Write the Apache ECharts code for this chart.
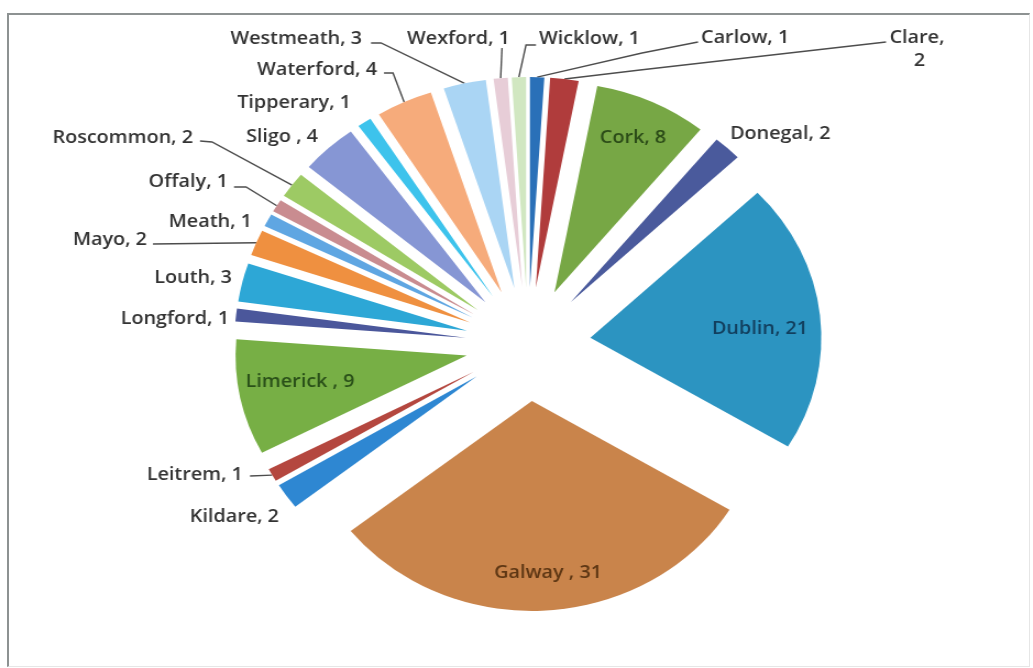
<!DOCTYPE html>
<html>
<head>
<meta charset="utf-8">
<script src="https://cdn.jsdelivr.net/npm/echarts@6/dist/echarts.min.js"></script>
<style>
  html, body { margin: 0; padding: 0; background: #fff; width: 1033px; height: 668px; overflow: hidden; }
  #frame {
    position: absolute; left: 7px; top: 13px; width: 1023px; height: 654px; box-sizing: border-box;
    border-left: 2px solid #8d9292; border-top: 2px solid #8d9292;
    border-right: 1px solid #e6e6e6; border-bottom: 1px solid #e6e6e6;
  }
  /* the pie is drawn slightly wider than tall */
  #chart { position: absolute; left: 0; top: 0; width: 940px; height: 668px; transform: scaleX(1.1); transform-origin: 0 0; }
</style>
</head>
<body>
<div id="frame"></div>
<div id="chart"></div>
<script>
// Respondents by county
const counties = ['Carlow', 'Clare', 'Cork', 'Donegal', 'Dublin', 'Galway ', 'Kildare', 'Leitrem',
  'Limerick ', 'Longford', 'Louth', 'Mayo', 'Meath', 'Offaly', 'Roscommon', 'Sligo ', 'Tipperary',
  'Waterford', 'Westmeath', 'Wexford', 'Wicklow'];
const counts = [1, 2, 8, 2, 21, 31, 2, 1, 9, 1, 3, 2, 1, 1, 2, 4, 1, 4, 3, 1, 1];

const sliceColors = ['#2A70B8', '#B03C3C', '#77A745', '#4A5A9C', '#2C94C1', '#C9844B', '#2E87D2',
  '#B4473F', '#77AF45', '#4B579B', '#2DA7D6', '#EF9040', '#5FA6E2', '#C98C90', '#9DCA64', '#8696D4',
  '#3DC3EC', '#F6AB7B', '#AAD5F4', '#E7CDD7', '#D1E7C1'];

const SX = 1.1;               // horizontal stretch of the chart box
const CENTER = [480, 344];    // pie centre inside the chart box
const RADIUS = 210;
const EXPLODE = 57;           // distance every slice is pulled out from the centre

// Label placement (page pixels): text anchor, alignment and leader-line bends
const labelSpots = {
  'Carlow':    { x: 701, y: 38, align: 'left',  line: [[642, 53], [698, 42]] },
  'Clare':     { x: 917, y: 49, align: 'center', line: [[640, 70], [886, 42]] },
  'Cork':      { x: 633, y: 138, align: 'center', color: '#2C4C18' },
  'Donegal':   { x: 730, y: 134, align: 'left' },
  'Dublin':    { x: 760, y: 329, align: 'center', color: '#123F5E' },
  'Galway ':   { x: 548, y: 573, align: 'center', color: '#5E3714' },
  'Kildare':   { x: 279, y: 517, align: 'right' },
  'Leitrem':   { x: 243, y: 475, align: 'right', line: [[250, 476]] },
  'Limerick ': { x: 300, y: 382, align: 'center', color: '#2A5019' },
  'Longford':  { x: 229, y: 319, align: 'right' },
  'Louth':     { x: 232, y: 278, align: 'right' },
  'Mayo':      { x: 147, y: 240, align: 'right', line: [[153, 244]] },
  'Meath':     { x: 252, y: 222, align: 'right' },
  'Offaly':    { x: 228, y: 182, align: 'right', line: [[246, 187], [234, 187]] },
  'Roscommon': { x: 193, y: 138, align: 'right', line: [[212, 142], [200, 141]] },
  'Sligo ':    { x: 318, y: 137, align: 'right' },
  'Tipperary': { x: 351, y: 103, align: 'right' },
  'Waterford': { x: 377, y: 70, align: 'right', line: [[393, 73], [384, 73]] },
  'Westmeath': { x: 362, y: 39, align: 'right', line: [[381, 43], [371, 43]] },
  'Wexford':   { x: 510, y: 39, align: 'right', line: [[502, 48]] },
  'Wicklow':   { x: 539, y: 39, align: 'left',  line: [[526, 45], [536, 45]] }
};

// exploded slices
const sliceData = counties.map((name, i) => ({
  name: name,
  value: counts[i],
  selected: true,
  itemStyle: { color: sliceColors[i] }
}));

// same slices again, transparent, carrying the data labels
const labelData = counties.map((name, i) => {
  const spot = labelSpots[name];
  const item = {
    name: name,
    value: counts[i],
    label: { position: spot.color ? 'inside' : 'outside' },
    labelLine: { show: !!spot.line }
  };
  if (spot.color) item.label.color = spot.color;
  if (name === 'Clare') {
    item.label.width = 52;
    item.label.overflow = 'break';
    item.label.align = 'center';
  }
  return item;
});

const chart = echarts.init(document.getElementById('chart'), null, { renderer: 'canvas' });
chart.setOption({
  animation: false,
  backgroundColor: 'transparent',
  series: [{
    type: 'pie',
    center: CENTER,
    radius: RADIUS,
    startAngle: 90,
    clockwise: true,
    selectedMode: 'multiple',
    selectedOffset: EXPLODE,
    emphasis: { disabled: true },
    itemStyle: { borderWidth: 0 },
    label: { show: false },
    labelLine: { show: false },
    data: sliceData
  }, {
    type: 'pie',
    center: CENTER,
    radius: RADIUS,
    startAngle: 90,
    clockwise: true,
    selectedMode: false,
    silent: true,
    avoidLabelOverlap: false,
    emphasis: { disabled: true },
    itemStyle: { color: 'rgba(0,0,0,0)', borderWidth: 0 },
    label: {
      show: true,
      formatter: '{b}, {c}',
      fontFamily: 'Open Sans',
      fontSize: 18,
      fontWeight: 600,
      lineHeight: 23,
      color: '#333333'
    },
    labelLine: {
      show: true,
      length: 10,
      length2: 10,
      smooth: false,
      lineStyle: { color: '#4d4d4d', width: 1.4 }
    },
    labelLayout: function (p) {
      const spot = labelSpots[counties[p.dataIndex]];
      const out = { x: spot.x / SX, y: spot.y, align: spot.align, verticalAlign: 'middle' };
      if (spot.line && p.labelLinePoints) {
        // start the leader on the rim of the pulled-out slice
        const p0 = p.labelLinePoints[0];
        const vx = p0[0] - CENTER[0], vy = p0[1] - CENTER[1];
        const len = Math.sqrt(vx * vx + vy * vy) || 1;
        const start = [p0[0] + EXPLODE * vx / len, p0[1] + EXPLODE * vy / len];
        out.labelLinePoints = [start].concat(spot.line.map(q => [q[0] / SX, q[1]]));
      }
      return out;
    },
    data: labelData
  }]
});
</script>
</body>
</html>
